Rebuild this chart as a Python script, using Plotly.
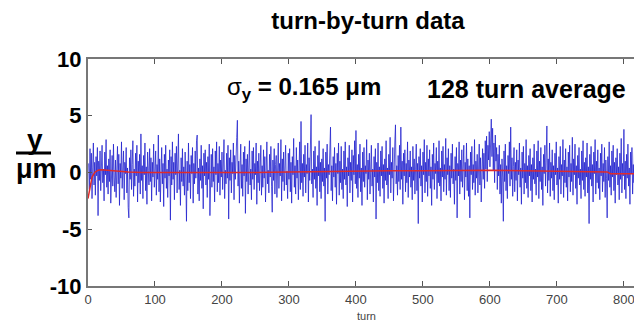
import plotly.graph_objects as go

# blue turn-by-turn position readings (micrometres), turns 1..830
y_turn = [
0.8,-1.5,2.1,-0.6,1.7,-2.3,0.4,2.6,-1.1,0.9,-2.0,1.4,-0.3,2.2,-3.8,1.0,-0.7,1.9,-1.6,0.5,
2.4,-0.9,0.3,-2.5,1.8,-0.2,2.9,-1.3,0.6,-1.9,1.2,-0.8,2.0,-2.7,0.7,1.5,-1.2,2.5,-0.4,-1.7,
1.1,-2.2,0.2,2.3,-1.0,1.6,-2.9,0.8,-0.5,2.7,-1.4,0.1,1.9,-2.4,0.9,-0.1,2.2,-1.8,0.4,-3.1,
-4.0,1.3,-0.6,2.0,-1.5,0.7,2.8,-2.1,0.3,-1.2,1.7,-0.3,2.4,-2.6,1.0,-0.9,1.6,-1.9,3.4,-0.7,
0.6,-2.3,1.5,-0.2,2.6,-1.6,0.5,-2.8,1.8,0.2,-1.1,2.1,-0.8,1.3,-2.5,0.9,-0.4,2.5,-1.3,0.1,
1.9,-2.0,0.7,-0.6,3.3,-1.7,1.2,-2.6,0.4,2.2,-1.0,0.8,-3.0,1.6,-0.5,2.4,-1.4,0.3,-2.2,1.1,
-0.3,2.0,-4.2,1.4,-1.1,2.7,-0.6,0.9,-2.4,1.7,-0.2,2.3,-1.8,0.6,3.4,-1.5,0.2,-2.9,1.3,-0.8,
2.1,-1.2,0.5,-2.0,1.8,-0.4,-4.3,1.0,-1.6,2.6,-0.9,0.7,-2.3,1.5,-0.1,2.2,-2.7,0.8,-1.0,1.9,
-0.5,2.8,3.3,-1.9,0.4,-2.5,1.2,-0.7,2.4,-1.4,0.6,-3.2,1.7,-0.3,2.0,-1.1,0.9,-2.2,1.4,-0.6,
2.5,-3.8,0.3,1.6,-1.3,2.1,-0.8,0.5,-2.6,1.9,-0.2,2.7,-1.7,0.8,-0.9,2.3,-2.0,1.1,-0.4,1.8,
-1.5,0.6,2.9,-2.3,0.2,-1.0,1.7,-0.5,2.4,-4.1,1.3,-0.7,2.0,-1.8,0.9,-0.1,2.6,-2.4,1.5,-0.6,
2.2,3.1,4.6,-1.2,1.0,-2.7,0.4,2.5,-1.4,0.7,-2.1,1.8,-0.3,2.3,-3.6,1.2,-0.8,1.6,-1.9,0.5,
2.8,-1.1,0.3,-2.4,1.9,-0.6,2.2,-1.5,0.8,-0.2,2.6,-2.8,1.0,-0.9,1.7,-1.6,0.4,2.4,-2.0,0.6,
-1.3,2.0,-0.5,1.4,-2.6,0.9,2.7,-1.0,0.2,-1.8,1.6,-0.4,2.3,-1.2,-3.5,1.1,-0.7,2.1,-1.9,0.7,
1.5,-2.2,0.3,2.6,-1.4,0.8,-0.3,2.9,-2.5,1.2,-0.8,1.8,-1.6,0.5,2.4,-1.1,0.1,-2.3,1.7,-0.6,
2.1,-1.7,0.9,-2.7,1.4,-0.2,3.0,-1.3,0.6,-1.9,2.2,-0.5,1.1,-2.4,0.4,2.7,-1.5,4.5,-0.9,0.8,
-2.1,1.6,-0.4,2.4,-1.8,0.7,-0.1,2.6,-2.6,1.3,-0.7,3.2,5.1,-1.0,0.3,-2.2,1.9,-0.6,2.3,-1.4,
0.5,-2.9,1.5,-0.3,2.8,-1.7,0.9,-2.3,1.2,-0.8,2.1,-1.2,0.4,-4.3,1.8,-0.5,2.5,-1.9,0.7,-0.2,
3.0,4.0,-1.6,0.6,-2.5,1.4,-0.4,2.2,-1.3,0.8,-2.8,1.7,-0.1,2.6,-2.0,1.0,-0.9,2.3,-1.5,0.3,
-2.3,1.9,-0.6,2.7,-1.1,0.5,-3.0,1.3,-0.3,2.4,-1.8,0.9,-0.7,2.0,-2.6,1.5,-0.2,2.8,-1.0,3.7,
-1.4,0.7,-2.2,1.6,-0.5,2.5,-1.7,0.4,-2.9,1.8,-0.8,2.2,-1.3,0.6,-0.1,2.9,-2.4,1.1,-0.6,1.7,
-1.9,0.8,2.4,-1.2,0.3,-2.6,1.4,-0.4,2.1,-4.1,0.9,-0.9,2.6,-1.6,0.5,-2.1,1.9,-0.3,2.3,-1.4,
0.7,-2.7,1.2,-0.7,2.8,-1.1,0.4,-2.3,1.6,-0.2,3.1,-1.8,0.9,-0.5,2.2,-2.5,1.3,2.6,4.2,-1.0,
0.6,-2.0,1.5,-0.8,2.4,-1.5,4.0,-0.6,1.0,-2.8,1.7,-0.3,2.0,-1.7,0.8,-0.9,2.7,-2.2,1.1,-0.4,
1.9,-1.3,0.5,-2.4,2.3,-0.7,1.2,-1.9,0.3,2.5,-1.6,0.8,-4.5,1.4,-0.5,2.1,-1.2,0.6,-2.6,1.8,
-0.2,2.9,-1.8,0.9,-0.8,2.4,-2.1,1.2,-0.3,2.0,-1.4,0.5,-2.9,1.6,-0.6,2.6,-1.5,0.8,-0.1,2.2,
-2.3,1.0,-0.9,2.8,-1.2,0.4,-2.5,1.9,-0.4,2.3,-1.7,0.7,-0.6,3.0,-2.0,1.3,-0.2,2.1,-1.6,0.6,
-2.2,1.7,-0.5,2.5,-1.0,0.3,-2.8,1.4,-0.7,2.2,-4.0,0.8,-0.3,2.7,-1.9,1.1,-0.8,2.0,-1.3,0.5,
2.4,-2.4,0.9,-0.4,2.6,-1.6,1.2,-2.1,0.6,-4.0,1.8,-0.2,2.3,-1.5,0.7,-0.9,2.9,-2.0,1.0,-0.5,
1.6,-1.8,0.4,2.5,-1.1,1.3,-2.6,0.8,2.1,-0.6,1.7,-1.4,2.8,0.3,3.2,-0.8,2.4,1.1,3.6,0.5,
2.9,4.7,1.4,3.9,0.2,2.6,-0.9,3.3,1.0,2.2,-1.5,1.6,-0.3,2.4,-1.9,0.7,-2.7,1.2,-0.4,-4.3,
1.9,-0.8,2.5,-1.6,0.6,-2.3,1.5,-0.1,2.7,-1.2,4.0,-0.6,1.3,-2.1,0.5,2.2,-1.7,0.9,-0.7,2.0,
-2.5,1.1,-0.2,2.6,-1.3,0.4,-2.8,1.8,-0.5,2.3,-1.9,0.8,-0.9,2.9,-1.4,0.6,-2.2,1.5,-0.3,2.1,
-1.6,0.7,-2.6,1.3,-0.6,2.5,-1.0,0.3,-2.0,1.9,-0.4,2.8,-2.3,1.0,-0.8,2.2,-1.5,0.5,-2.9,1.6,
-0.1,2.4,-1.2,0.8,4.1,-1.8,1.2,-0.7,2.6,-2.1,0.9,-0.5,2.0,-1.6,0.6,-2.4,1.7,-0.2,2.7,-1.1,
0.4,-2.7,1.4,-0.6,2.3,-1.9,0.7,-0.3,2.9,-2.2,1.1,-0.9,2.1,-1.3,0.5,-2.5,1.8,-0.4,2.4,-1.7,
0.8,-0.8,3.1,-2.0,1.2,-0.2,2.5,-1.4,0.6,-2.8,1.5,-0.5,2.2,-1.1,0.3,-2.3,1.9,-0.7,2.8,-1.5,
0.9,-2.1,1.3,-0.4,2.6,-1.8,0.5,-4.5,1.6,-0.6,2.3,-1.2,0.7,-2.6,1.8,-0.1,2.9,-1.9,1.0,-0.9,
2.0,-1.4,0.4,-2.4,1.7,-0.3,2.5,-1.7,0.8,-0.8,2.2,-2.2,1.1,-0.5,-4.0,1.4,-0.7,2.7,-1.3,0.6,
-2.0,1.9,-0.4,2.4,-1.6,0.9,-2.7,1.3,-0.2,2.1,-1.1,0.5,-2.4,1.7,-0.6,3.0,-1.8,0.8,-0.3,3.8,
-1.5,1.0,-2.3,1.6,-0.5,2.5,-1.2,0.4,-2.8,1.8,-0.1,2.2,-1.9,0.7,-0.9,2.6,-1.4,0.3,-2.1,1.5,
-0.6,2.3,-1.7,0.9,-2.5,1.4,-0.3,2.0,-1.0,0.6,
]
turns = list(range(1, len(y_turn) + 1))

# red 128-turn running average (read at sparse turns)
avg_turns = [0, 3, 6, 10, 15, 20, 30, 40, 60, 80, 100, 150, 200, 250, 300, 350,
             400, 450, 500, 550, 600, 650, 700, 750, 775, 780, 830]
avg_vals = [-2.3, -1.2, -0.4, 0.0, 0.2, 0.25, 0.2, 0.1, 0.05, 0.0, 0.0, -0.05, 0.0,
            0.0, 0.05, 0.1, 0.1, 0.15, 0.15, 0.2, 0.2, 0.15, 0.1, 0.05, 0.05, -0.1, -0.1]

x_ticks = [0, 100, 200, 300, 400, 500, 600, 700, 800]
y_ticks = [-10, -5, 0, 5, 10]
y_tick_labels = ["-10", "-5", "0", "5", "10"]

BOLD = "Liberation Sans, Arial, sans-serif"
NARROW = "Liberation Sans Narrow, Arial Narrow, sans-serif"

# the page body has an 8px margin; the figure is sized so the plot area
# lands at screen x 88..642, y 59..286
OFF = 8
W, H = 642 - OFF, 325 - OFF

fig = go.Figure()
fig.add_trace(go.Scatter(x=turns, y=y_turn, mode="lines",
                         line=dict(color="rgba(30,30,205,0.85)", width=0.9),
                         showlegend=False))
fig.add_trace(go.Scatter(x=avg_turns, y=avg_vals, mode="lines",
                         line=dict(color="#e02a2a", width=1.5), showlegend=False))

fig.update_layout(
    width=W, height=H,
    margin=dict(l=88 - OFF, r=0, t=59 - OFF, b=39, autoexpand=False),
    paper_bgcolor="white", plot_bgcolor="white",
    title=dict(text="<b>turn-by-turn data</b>", x=(368 - OFF) / W, xref="container",
               xanchor="center", y=1 - (21 - OFF) / H, yanchor="middle",
               font=dict(family=BOLD, size=24, color="black")),
)
fig.update_xaxes(range=[0, 827], tickvals=x_ticks, ticks="inside", ticklen=5,
                 tickcolor="#555", showline=True, linecolor="#777", linewidth=2,
                 mirror="allticks", showgrid=False, zeroline=False,
                 tickfont=dict(family=NARROW, size=13, color="#444"))
fig.update_yaxes(range=[-10, 10], tickvals=y_ticks, ticktext=y_tick_labels,
                 ticks="inside", ticklen=4,
                 tickcolor="#555", showline=True, linecolor="#777", linewidth=2,
                 showgrid=False, zeroline=False,
                 tickfont=dict(family=BOLD, size=22, color="black", weight="bold"))

annots = [
    dict(x=205, y=7.4, xref="x", yref="y", xanchor="left", yanchor="middle",
         text="σ<sub><b>y</b></sub><b> = 0.165 μm</b>", showarrow=False,
         font=dict(family=BOLD, size=24, color="black")),
    dict(x=503, y=7.4, xref="x", yref="y", xanchor="left", yanchor="middle",
         text="<b>128 turn average</b>", showarrow=False,
         font=dict(family=BOLD, size=25, color="black")),
    dict(x=(366 - 88) / 554, y=-(316 - 286) / 227, xref="paper", yref="paper",
         xanchor="center", yanchor="middle", text="turn", showarrow=False,
         font=dict(family=NARROW, size=11, color="#444")),
    dict(x=(35 - 88) / 554, y=(286 - 139) / 227, xref="paper", yref="paper",
         xanchor="center", yanchor="middle", text="<b>y</b>", showarrow=False,
         font=dict(family=BOLD, size=28, color="black")),
    dict(x=(36 - 88) / 554, y=(286 - 169) / 227, xref="paper", yref="paper",
         xanchor="center", yanchor="middle", text="<b>μm</b>", showarrow=False,
         font=dict(family=BOLD, size=27, color="black")),
]
fig.update_layout(annotations=annots)
fig.add_shape(type="line", xref="paper", yref="paper",
              x0=(16 - 88) / 554, x1=(51 - 88) / 554,
              y0=(286 - 153) / 227, y1=(286 - 153) / 227,
              line=dict(color="black", width=3))

fig.write_html("out.html")
